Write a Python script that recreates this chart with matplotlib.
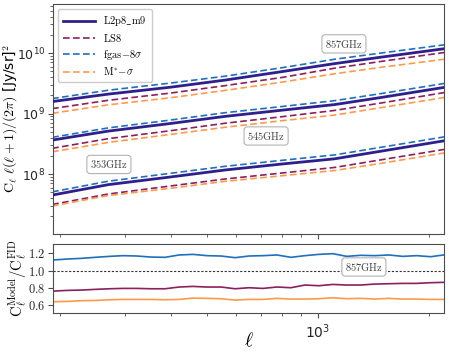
import numpy as np
import matplotlib
matplotlib.use("Agg")
import matplotlib.pyplot as plt
from matplotlib.ticker import FuncFormatter, NullFormatter

# -----------------------------------------
# Data
# -----------------------------------------
# multipoles where the top-panel spectra are sampled
ell_top = [190, 270, 400, 560, 800, 1110, 1470, 2200]

# fiducial (L2p8_m9) spectra, C_l l(l+1)/2pi in [Jy/sr]^2
fid_857 = [1.58e9, 2.10e9, 2.74e9, 3.58e9, 4.95e9, 6.70e9, 8.50e9, 1.18e10]
fid_545 = [3.65e8, 5.14e8, 6.89e8, 9.00e8, 1.14e9, 1.41e9, 1.83e9, 2.71e9]
fid_353 = [4.50e7, 6.70e7, 9.00e7, 1.17e8, 1.47e8, 1.79e8, 2.37e8, 3.55e8]

# model / fiducial ratios at the same multipoles
fgas_857 = [1.12, 1.16, 1.17, 1.16, 1.16, 1.18, 1.17, 1.16]
ls8_857 = [0.765, 0.79, 0.80, 0.81, 0.80, 0.84, 0.85, 0.866]
mstar_857 = [0.64, 0.665, 0.67, 0.675, 0.67, 0.68, 0.68, 0.67]

fgas_545 = [1.11, 1.13, 1.14, 1.15, 1.15, 1.16, 1.16, 1.16]
ls8_545 = [0.73, 0.75, 0.76, 0.77, 0.78, 0.80, 0.81, 0.82]
mstar_545 = [0.64, 0.65, 0.66, 0.66, 0.67, 0.67, 0.68, 0.68]

fgas_353 = [1.13, 1.14, 1.15, 1.15, 1.15, 1.16, 1.16, 1.16]
ls8_353 = [0.70, 0.70, 0.71, 0.71, 0.71, 0.72, 0.72, 0.72]
mstar_353 = [0.66, 0.66, 0.65, 0.65, 0.64, 0.64, 0.63, 0.63]

# bottom panel: 857GHz ratios on a finer grid
ell_ratio = [191, 209, 228, 249, 272, 296, 323, 352, 385, 420, 458, 500, 546,
             596, 650, 709, 774, 845, 922, 1006, 1098, 1198, 1307, 1426, 1556,
             1699, 1854, 2023, 2193]
ratio_fgas = [1.124, 1.135, 1.143, 1.155, 1.166, 1.174, 1.170, 1.158, 1.155,
              1.182, 1.189, 1.174, 1.170, 1.151, 1.170, 1.174, 1.182, 1.155,
              1.174, 1.189, 1.197, 1.166, 1.178, 1.174, 1.182, 1.166, 1.174,
              1.162, 1.182]
ratio_ls8 = [0.765, 0.773, 0.777, 0.785, 0.792, 0.796, 0.796, 0.792, 0.792,
             0.812, 0.819, 0.812, 0.812, 0.792, 0.804, 0.796, 0.812, 0.804,
             0.835, 0.827, 0.842, 0.835, 0.835, 0.846, 0.850, 0.854, 0.854,
             0.862, 0.866]
ratio_mstar = [0.642, 0.646, 0.654, 0.657, 0.665, 0.669, 0.669, 0.669, 0.665,
               0.669, 0.684, 0.681, 0.677, 0.661, 0.669, 0.669, 0.681, 0.673,
               0.673, 0.677, 0.688, 0.677, 0.681, 0.673, 0.681, 0.673, 0.673,
               0.669, 0.669]

# -----------------------------------------
# Style
# -----------------------------------------
plt.rcParams["mathtext.fontset"] = "cm"
plt.rcParams["font.family"] = "DejaVu Sans"
plt.rcParams["axes.formatter.use_mathtext"] = True
plt.rcParams["axes.edgecolor"] = "0.3"
plt.rcParams["xtick.color"] = "0.3"
plt.rcParams["ytick.color"] = "0.3"
plt.rcParams["xtick.labelcolor"] = "0.15"
plt.rcParams["ytick.labelcolor"] = "0.15"

c_fid = "#2e1f8c"
c_ls8 = "#8c1f5e"
c_fgas = "#1f6fbf"
c_mstar = "#ff9a4d"
dash = (0, (4, 2))

fig = plt.figure(figsize=(4.49, 3.55), dpi=100)
ax = fig.add_axes([0.118, 0.342, 0.871, 0.647])
axr = fig.add_axes([0.118, 0.119, 0.871, 0.194])

ell_top = np.array(ell_top)
sets = [
    (fid_857, fgas_857, ls8_857, mstar_857),
    (fid_545, fgas_545, ls8_545, mstar_545),
    (fid_353, fgas_353, ls8_353, mstar_353),
]
for i, (fid, fgas, ls8, mstar) in enumerate(sets):
    fid = np.array(fid)
    names = [r"$\mathrm{L2p8\_m9}$", r"$\mathrm{LS8}$",
             r"$\mathrm{fgas}\!-\!8\sigma$", r"$\mathrm{M}^{*}\!-\!\sigma$"]
    if i > 0:
        names = ["_nolegend_"] * 4
    ax.plot(ell_top, fid, color=c_fid, lw=2.0, label=names[0], zorder=3)
    ax.plot(ell_top, fid * np.array(ls8), color=c_ls8, lw=1.2, ls=dash, label=names[1])
    ax.plot(ell_top, fid * np.array(fgas), color=c_fgas, lw=1.2, ls=dash, label=names[2])
    ax.plot(ell_top, fid * np.array(mstar), color=c_mstar, lw=1.2, ls=dash, label=names[3])

ax.set_xscale("log")
ax.set_yscale("log")
ax.set_xlim(191, 2200)
ax.set_ylim(1.04e7, 6.5e10)
ax.xaxis.set_minor_formatter(NullFormatter())
ax.tick_params(axis="x", which="both", labelbottom=False)
ax.tick_params(axis="y", labelsize=9, pad=2)
ax.set_ylabel(r"$\mathrm{C}_\ell\ \ell(\ell+1)/(2\pi)$ [Jy/sr]$^2$", fontsize=10)
ax.yaxis.set_label_coords(-0.084, 0.5)

ax.legend(loc="upper left", fontsize=7.5, handlelength=3.0, labelspacing=0.35,
          borderpad=0.5, fancybox=True, framealpha=1, edgecolor="0.8")

bbox = dict(boxstyle="round,pad=0.3", fc="white", ec="0.7", lw=0.8)
ax.text(0.744, 0.826, r"$\mathrm{857GHz}$", transform=ax.transAxes, fontsize=7.5,
        ha="center", va="center", color="0.25", bbox=bbox)
ax.text(0.545, 0.425, r"$\mathrm{545GHz}$", transform=ax.transAxes, fontsize=7.5,
        ha="center", va="center", color="0.25", bbox=bbox)
ax.text(0.143, 0.301, r"$\mathrm{353GHz}$", transform=ax.transAxes, fontsize=7.5,
        ha="center", va="center", color="0.25", bbox=bbox)

# ratio panel
axr.plot(ell_ratio, ratio_fgas, color=c_fgas, lw=1.2)
axr.plot(ell_ratio, ratio_ls8, color=c_ls8, lw=1.2)
axr.plot(ell_ratio, ratio_mstar, color=c_mstar, lw=1.2)
axr.axhline(1.0, color="0.2", lw=0.8, ls=(0, (2, 1.5)))
axr.set_xscale("log")
axr.set_xlim(191, 2200)
axr.set_ylim(0.515, 1.31)
axr.set_yticks([0.6, 0.8, 1.0, 1.2])
axr.yaxis.set_major_formatter(FuncFormatter(lambda v, p: r"$%.1f$" % v))
axr.xaxis.set_minor_formatter(NullFormatter())
axr.tick_params(axis="x", labelsize=10)
axr.tick_params(axis="y", labelsize=9, pad=2)
axr.set_ylabel(r"$\mathrm{C}_\ell^{\mathrm{Model}}/\mathrm{C}_\ell^{\mathrm{FID}}$", fontsize=10.5)
axr.yaxis.set_label_coords(-0.061, 0.5)
axr.set_xlabel(r"$\ell$", fontsize=14)
axr.xaxis.set_label_coords(0.5, -0.27)
axr.text(0.795, 0.665, r"$\mathrm{857GHz}$", transform=axr.transAxes, fontsize=7.5,
         ha="center", va="center", color="0.25", bbox=bbox)

fig.savefig("out.png", dpi=100)
